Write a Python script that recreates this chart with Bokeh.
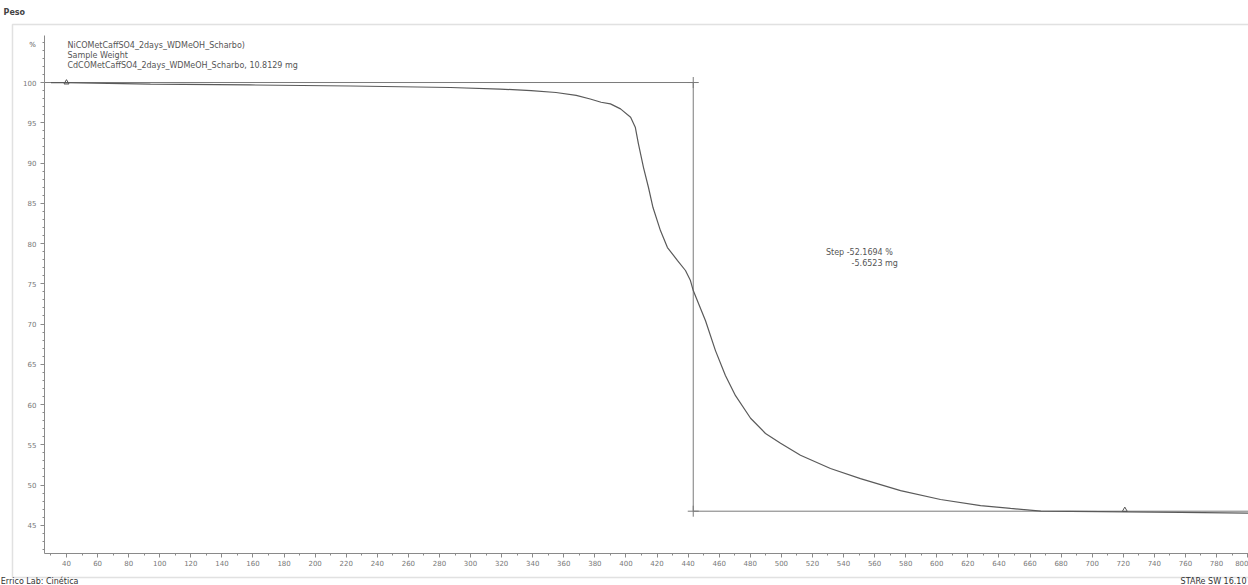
from bokeh.plotting import figure
from bokeh.models import Range1d, SingleIntervalTicker, FixedTicker, Label, BoxAnnotation
from bokeh.embed import file_html
from bokeh.resources import INLINE

# ---- data ----
temperature = [30, 40, 94, 158, 223, 287, 319, 339, 355, 368, 377, 384, 390, 396.5,
               403, 406, 408, 411.3, 414.5, 417.4, 422.2, 426.7, 433.2, 438.3, 441.5,
               443.3, 451.2, 457.6, 464, 470.5, 480.2, 489.8, 499.5, 512.3, 531.6,
               550.9, 576.7, 602.4, 628.2, 647.5, 667, 705, 757, 801]
mass_pct = [100.0, 100.0, 99.8, 99.7, 99.57, 99.38, 99.19, 99.0, 98.76, 98.4, 97.95,
            97.55, 97.35, 96.73, 95.69, 94.45, 92.42, 89.44, 86.96, 84.47, 81.61, 79.5,
            77.89, 76.65, 75.4, 74.16, 70.4, 66.7, 63.6, 61.1, 58.3, 56.4, 55.2, 53.7,
            52.05, 50.8, 49.3, 48.2, 47.45, 47.1, 46.75, 46.7, 46.6, 46.5]

step_x = [26.0, 443.3, 443.3, 801.0]
step_y = [100.0, 100.0, 46.75, 46.75]
step_marks_x = [443.3, 443.3]
step_marks_y = [100.0, 46.75]
eval_marks_x = [40.0, 721.0]
eval_marks_y = [100.0, 46.9]

y_major_ticks = [45, 50, 55, 60, 65, 70, 75, 80, 85, 90, 95, 100]
y_minor_ticks = list(range(42, 106))

header_lines = ["NiCOMetCaffSO4_2days_WDMeOH_Scharbo)",
                "Sample Weight",
                "CdCOMetCaffSO4_2days_WDMeOH_Scharbo, 10.8129 mg"]
step_text = ["Step   -52.1694 %", "-5.6523 mg"]

FONT = "DejaVu Sans"
GREY = "#8a8a8a"
TXT = "#555555"

# frame covers the whole canvas; axes are placed inside at fixed locations
p = figure(width=1248, height=585, output_backend="svg", toolbar_location=None,
           x_range=Range1d(-2.47, 800.6), y_range=Range1d(37.52, 110.19),
           min_border=0)
p.outline_line_color = None
p.grid.visible = False
p.background_fill_color = "white"
p.border_fill_color = "white"

p.xaxis.ticker = SingleIntervalTicker(interval=20, num_minor_ticks=2)
p.yaxis.ticker = FixedTicker(ticks=y_major_ticks, minor_ticks=y_minor_ticks)
p.xaxis.fixed_location = 41.5
p.yaxis.fixed_location = 25.8
p.xaxis.bounds = (25.8, 820)
p.yaxis.bounds = (41.5, 105.8)
for ax in (p.xaxis, p.yaxis):
    ax.axis_line_color = GREY
    ax.major_tick_line_color = GREY
    ax.minor_tick_line_color = GREY
    ax.major_tick_out = 4
    ax.major_tick_in = 0
    ax.minor_tick_out = 2
    ax.minor_tick_in = 0
    ax.major_label_text_font = FONT
    ax.major_label_text_font_size = "7px"
    ax.major_label_text_color = "#777777"
p.xaxis.major_label_standoff = 3
p.yaxis.major_label_standoff = 4

# outer frame
p.add_layout(BoxAnnotation(left=5.25, right=820, top=107.2, bottom=38.5,
                           fill_alpha=0, line_color="#9a9a9a", line_width=1.5))

# step analysis lines
p.line(step_x, step_y, line_color="#7a7a7a", line_width=1)
p.scatter(step_marks_x, step_marks_y, marker="cross", size=11, line_color="#7a7a7a", line_width=1)

# curve
p.line(temperature, mass_pct, line_color="#5a5a5a", line_width=1.2)
p.scatter(eval_marks_x, eval_marks_y, marker="triangle", size=5, fill_color=None,
          line_color="#555555", line_width=1)

# header text
for i, t in enumerate(header_lines):
    p.add_layout(Label(x=40.6, y=104.6 - i * 1.25, text=t, text_font=FONT,
                       text_font_size="8px", text_color=TXT, text_baseline="middle"))

p.add_layout(Label(x=18.1, y=104.7, text="%", text_font=FONT, text_font_size="7px",
                   text_color=TXT, text_baseline="middle", text_align="center"))

p.add_layout(Label(x=575.0, y=78.85, text=step_text[0], text_font=FONT, text_font_size="8px",
                   text_color=TXT, text_baseline="middle", text_align="right"))
p.add_layout(Label(x=575.0, y=77.55, text=step_text[1], text_font=FONT, text_font_size="8px",
                   text_color=TXT, text_baseline="middle", text_align="right"))

p.add_layout(Label(x=-0.5, y=108.7, text="Peso", text_font=FONT, text_font_size="8px",
                   text_font_style="bold", text_color="#444444", text_baseline="middle"))
p.add_layout(Label(x=-2.3, y=38.0, text="Errico Lab: Cinética", text_font=FONT,
                   text_font_size="8px", text_color="#333333", text_baseline="middle"))
p.add_layout(Label(x=756.9, y=38.0, text="STARe SW 16.10", text_font=FONT,
                   text_font_size="8px", text_color="#333333", text_baseline="middle"))

open("out.html", "w").write(file_html(p, INLINE))
